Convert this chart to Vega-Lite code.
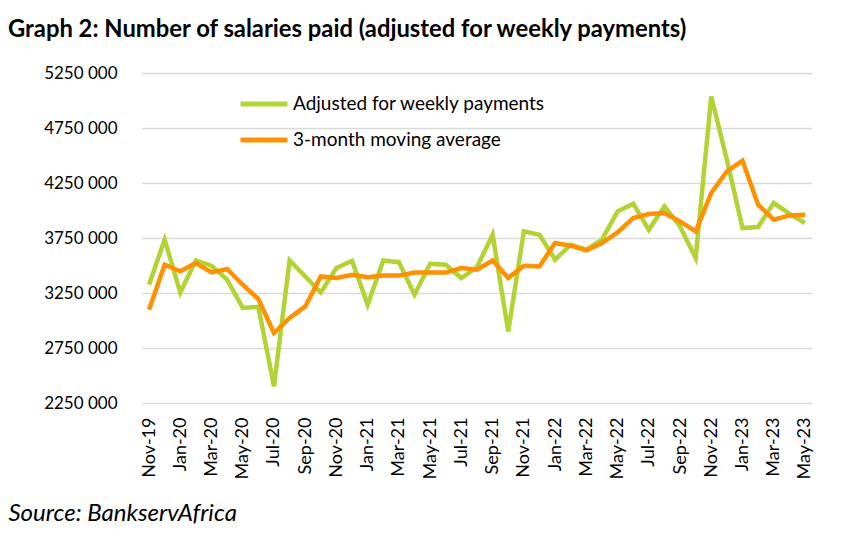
{
  "$schema": "https://vega.github.io/schema/vega-lite/v6.json",
  "width": 670,
  "height": 330,
  "autosize": {"type": "none"},
  "padding": {"left": 142, "top": 73, "right": 37, "bottom": 135},
  "background": "white",
  "title": {
    "text": "Graph 2: Number of salaries paid (adjusted for weekly payments)",
    "anchor": "start",
    "frame": "group",
    "dx": -134,
    "offset": 22,
    "font": "Lato",
    "fontSize": 23.8,
    "fontWeight": "bold",
    "color": "#000000"
  },
  "data": {
    "values": [
      {"month": "Nov-19", "Adjusted for weekly payments": 3325000, "3-month moving average": 3098000},
      {"month": "Dec-19", "Adjusted for weekly payments": 3735000, "3-month moving average": 3507000},
      {"month": "Jan-20", "Adjusted for weekly payments": 3255000, "3-month moving average": 3447000},
      {"month": "Feb-20", "Adjusted for weekly payments": 3546000, "3-month moving average": 3523000},
      {"month": "Mar-20", "Adjusted for weekly payments": 3498000, "3-month moving average": 3437000},
      {"month": "Apr-20", "Adjusted for weekly payments": 3371000, "3-month moving average": 3468000},
      {"month": "May-20", "Adjusted for weekly payments": 3114000, "3-month moving average": 3325000},
      {"month": "Jun-20", "Adjusted for weekly payments": 3123000, "3-month moving average": 3195000},
      {"month": "Jul-20", "Adjusted for weekly payments": 2401000, "3-month moving average": 2886000},
      {"month": "Aug-20", "Adjusted for weekly payments": 3546000, "3-month moving average": 3023000},
      {"month": "Sep-20", "Adjusted for weekly payments": 3401000, "3-month moving average": 3128000},
      {"month": "Oct-20", "Adjusted for weekly payments": 3255000, "3-month moving average": 3401000},
      {"month": "Nov-20", "Adjusted for weekly payments": 3477000, "3-month moving average": 3386000},
      {"month": "Dec-20", "Adjusted for weekly payments": 3543000, "3-month moving average": 3416000},
      {"month": "Jan-21", "Adjusted for weekly payments": 3143000, "3-month moving average": 3393000},
      {"month": "Feb-21", "Adjusted for weekly payments": 3546000, "3-month moving average": 3408000},
      {"month": "Mar-21", "Adjusted for weekly payments": 3530000, "3-month moving average": 3408000},
      {"month": "Apr-21", "Adjusted for weekly payments": 3235000, "3-month moving average": 3437000},
      {"month": "May-21", "Adjusted for weekly payments": 3516000, "3-month moving average": 3437000},
      {"month": "Jun-21", "Adjusted for weekly payments": 3507000, "3-month moving average": 3437000},
      {"month": "Jul-21", "Adjusted for weekly payments": 3386000, "3-month moving average": 3477000},
      {"month": "Aug-21", "Adjusted for weekly payments": 3486000, "3-month moving average": 3462000},
      {"month": "Sep-21", "Adjusted for weekly payments": 3780000, "3-month moving average": 3546000},
      {"month": "Oct-21", "Adjusted for weekly payments": 2901000, "3-month moving average": 3386000},
      {"month": "Nov-21", "Adjusted for weekly payments": 3810000, "3-month moving average": 3498000},
      {"month": "Dec-21", "Adjusted for weekly payments": 3780000, "3-month moving average": 3492000},
      {"month": "Jan-22", "Adjusted for weekly payments": 3553000, "3-month moving average": 3704000},
      {"month": "Feb-22", "Adjusted for weekly payments": 3689000, "3-month moving average": 3680000},
      {"month": "Mar-22", "Adjusted for weekly payments": 3644000, "3-month moving average": 3637000},
      {"month": "Apr-22", "Adjusted for weekly payments": 3735000, "3-month moving average": 3704000},
      {"month": "May-22", "Adjusted for weekly payments": 3992000, "3-month moving average": 3801000},
      {"month": "Jun-22", "Adjusted for weekly payments": 4062000, "3-month moving average": 3932000},
      {"month": "Jul-22", "Adjusted for weekly payments": 3825000, "3-month moving average": 3968000},
      {"month": "Aug-22", "Adjusted for weekly payments": 4037000, "3-month moving average": 3977000},
      {"month": "Sep-22", "Adjusted for weekly payments": 3855000, "3-month moving average": 3901000},
      {"month": "Oct-22", "Adjusted for weekly payments": 3568000, "3-month moving average": 3810000},
      {"month": "Nov-22", "Adjusted for weekly payments": 5037000, "3-month moving average": 4159000},
      {"month": "Dec-22", "Adjusted for weekly payments": 4462000, "3-month moving average": 4356000},
      {"month": "Jan-23", "Adjusted for weekly payments": 3840000, "3-month moving average": 4453000},
      {"month": "Feb-23", "Adjusted for weekly payments": 3850000, "3-month moving average": 4053000},
      {"month": "Mar-23", "Adjusted for weekly payments": 4068000, "3-month moving average": 3917000},
      {"month": "Apr-23", "Adjusted for weekly payments": 3971000, "3-month moving average": 3955000},
      {"month": "May-23", "Adjusted for weekly payments": 3886000, "3-month moving average": 3962000}
    ]
  },
  "transform": [
    {"fold": ["Adjusted for weekly payments", "3-month moving average"], "as": ["series", "value"]}
  ],
  "mark": {"type": "line", "strokeWidth": 4.5, "strokeJoin": "miter", "strokeCap": "butt"},
  "encoding": {
    "x": {
      "field": "month",
      "type": "ordinal",
      "sort": null,
      "scale": {"type": "point", "padding": 0.45},
      "axis": {
        "values": ["Nov-19", "Jan-20", "Mar-20", "May-20", "Jul-20", "Sep-20", "Nov-20", "Jan-21", "Mar-21", "May-21", "Jul-21", "Sep-21", "Nov-21", "Jan-22", "Mar-22", "May-22", "Jul-22", "Sep-22", "Nov-22", "Jan-23", "Mar-23", "May-23"],
        "labelAngle": -90,
        "labelAlign": "right",
        "labelBaseline": "middle",
        "labelPadding": 14,
        "labelFont": "Lato",
        "labelFontSize": 18,
        "labelColor": "#000000",
        "ticks": false,
        "domain": false,
        "grid": false,
        "title": "Source: BankservAfrica",
        "titleFont": "Lato",
        "titleFontSize": 24,
        "titleFontStyle": "italic",
        "titleFontWeight": "normal",
        "titleColor": "#000000",
        "titleAnchor": "start",
        "titleAlign": "left",
        "titleBaseline": "alphabetic",
        "titleX": -134,
        "titleY": 117
      }
    },
    "y": {
      "field": "value",
      "type": "quantitative",
      "scale": {"domain": [2250000, 5250000], "nice": false, "zero": false},
      "axis": {
        "values": [2250000, 2750000, 3250000, 3750000, 4250000, 4750000, 5250000],
        "labelExpr": "floor(datum.value / 1000) + ' 000'",
        "labelFont": "Lato",
        "labelFontSize": 17,
        "labelColor": "#000000",
        "labelPadding": 25,
        "ticks": false,
        "domain": false,
        "grid": true,
        "gridColor": "#d9d9d9",
        "gridWidth": 1.5,
        "title": null
      }
    },
    "color": {
      "field": "series",
      "type": "nominal",
      "scale": {
        "domain": ["Adjusted for weekly payments", "3-month moving average"],
        "range": ["#b3d334", "#ff9000"]
      },
      "legend": {
        "title": null,
        "orient": "none",
        "legendX": 96,
        "legendY": 5,
        "symbolType": "stroke",
        "symbolSize": 2200,
        "symbolStrokeWidth": 5,
        "labelFont": "Lato",
        "labelFontSize": 19,
        "labelColor": "#000000",
        "labelOffset": 3,
        "rowPadding": -3,
        "labelLimit": 400
      }
    }
  },
  "config": {
    "view": {"stroke": null}
  }
}
